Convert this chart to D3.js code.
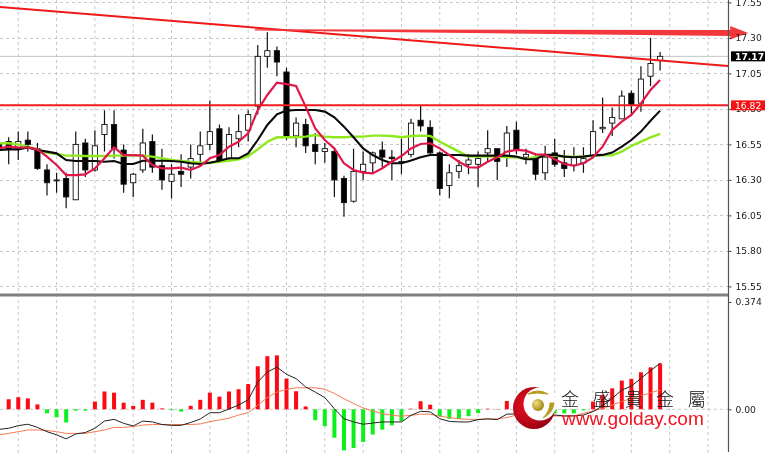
<!DOCTYPE html>
<html><head><meta charset="utf-8">
<style>html,body{margin:0;padding:0;background:#fff;overflow:hidden}svg{display:block;filter:blur(.3px)}</style>
<script src="https://cdnjs.cloudflare.com/ajax/libs/d3/7.8.5/d3.min.js"></script>
</head><body><svg id="c" width="765" height="455"></svg>
<script>
const opens=[16.56,16.57,16.52,16.58,16.52,16.37,16.30,16.31,16.16,16.56,16.37,16.62,16.69,16.51,16.28,16.37,16.57,16.40,16.29,16.36,16.39,16.48,16.55,16.66,16.45,16.59,16.65,16.82,17.17,17.21,17.06,16.61,16.69,16.55,16.50,16.50,16.31,16.15,16.36,16.42,16.51,16.46,16.43,16.48,16.72,16.67,16.49,16.26,16.36,16.41,16.41,16.49,16.52,16.46,16.65,16.46,16.45,16.35,16.49,16.42,16.40,16.42,16.47,16.66,16.70,16.73,16.91,16.84,17.03,17.14];
const highs=[16.59,16.60,16.64,16.64,16.56,16.41,16.35,16.35,16.64,16.59,16.65,16.79,16.79,16.55,16.35,16.66,16.62,16.52,16.41,16.48,16.55,16.64,16.86,16.69,16.67,16.76,16.79,17.25,17.34,17.24,17.09,16.74,16.73,16.63,16.56,16.53,16.33,16.52,16.50,16.50,16.57,16.51,16.59,16.73,16.82,16.72,16.50,16.41,16.44,16.48,16.50,16.65,16.52,16.68,16.71,16.52,16.49,16.54,16.59,16.51,16.53,16.53,16.72,16.88,16.81,16.93,16.93,17.10,17.30,17.20];
const lows=[16.46,16.41,16.44,16.50,16.37,16.19,16.21,16.10,16.16,16.32,16.36,16.50,16.45,16.21,16.18,16.35,16.35,16.23,16.17,16.25,16.31,16.40,16.51,16.43,16.44,16.53,16.57,16.76,17.09,17.03,16.58,16.53,16.49,16.41,16.42,16.18,16.04,16.14,16.30,16.35,16.39,16.30,16.34,16.46,16.64,16.48,16.19,16.17,16.31,16.34,16.25,16.42,16.30,16.39,16.48,16.41,16.30,16.30,16.39,16.32,16.36,16.35,16.47,16.63,16.61,16.73,16.76,16.78,16.96,17.07];
const closes=[16.52,16.52,16.57,16.55,16.38,16.28,16.30,16.18,16.55,16.37,16.54,16.69,16.52,16.27,16.34,16.56,16.39,16.30,16.34,16.34,16.45,16.54,16.64,16.43,16.62,16.64,16.76,17.17,17.21,17.13,16.60,16.70,16.54,16.50,16.52,16.30,16.14,16.36,16.41,16.49,16.46,16.45,16.43,16.70,16.68,16.49,16.24,16.35,16.40,16.44,16.45,16.52,16.43,16.63,16.51,16.48,16.34,16.46,16.41,16.38,16.46,16.45,16.64,16.67,16.74,16.89,16.83,17.01,17.12,17.17];
const maFast=[16.522,16.534,16.529,16.527,16.515,16.464,16.405,16.334,16.334,16.339,16.381,16.452,16.529,16.475,16.475,16.471,16.405,16.381,16.381,16.386,16.37,16.398,16.452,16.475,16.534,16.569,16.628,16.792,16.898,16.985,16.975,16.961,16.816,16.663,16.581,16.522,16.417,16.37,16.351,16.346,16.382,16.428,16.468,16.522,16.553,16.558,16.522,16.475,16.428,16.389,16.386,16.428,16.459,16.499,16.511,16.506,16.48,16.478,16.445,16.412,16.401,16.417,16.459,16.534,16.652,16.71,16.757,16.839,16.933,17.004];
const maMid=[16.511,16.515,16.515,16.529,16.511,16.499,16.487,16.44,16.433,16.433,16.433,16.428,16.433,16.412,16.412,16.435,16.435,16.435,16.433,16.428,16.417,16.412,16.421,16.435,16.452,16.452,16.487,16.581,16.687,16.762,16.788,16.792,16.792,16.792,16.781,16.741,16.675,16.6,16.522,16.475,16.44,16.417,16.417,16.436,16.459,16.475,16.475,16.475,16.475,16.471,16.471,16.471,16.471,16.471,16.464,16.445,16.445,16.476,16.476,16.464,16.459,16.464,16.473,16.476,16.492,16.534,16.581,16.64,16.717,16.788];
const maSlow=[16.558,16.558,16.55,16.534,16.515,16.492,16.482,16.471,16.471,16.468,16.468,16.468,16.471,16.471,16.471,16.471,16.464,16.452,16.44,16.433,16.426,16.421,16.421,16.428,16.435,16.445,16.468,16.515,16.569,16.6,16.6,16.6,16.605,16.616,16.605,16.6,16.6,16.605,16.605,16.612,16.612,16.609,16.6,16.609,16.612,16.609,16.569,16.534,16.499,16.464,16.464,16.464,16.464,16.459,16.459,16.445,16.464,16.476,16.469,16.464,16.464,16.464,16.471,16.473,16.473,16.499,16.539,16.57,16.6,16.624];
const macdHist=[0,.035,.042,.038,.017,-.014,-.028,-.046,-.005,-.005,.027,.062,.058,.023,.012,.033,.023,.003,-.003,-.008,.012,.033,.058,.044,.062,.07,.088,.15,.185,.188,.107,.063,.01,-.038,-.059,-.099,-.143,-.135,-.114,-.088,-.071,-.056,-.041,.002,.028,.016,-.024,-.033,-.033,-.024,-.013,.002,.001,.029,.012,-.005,-.012,-.012,-.014,-.014,-.014,-.004,.027,.05,.073,.1,.106,.129,.146,.16];
const macdLine=[-.07,-.066,-.057,-.052,-.063,-.078,-.089,-.103,-.086,-.081,-.066,-.041,-.035,-.049,-.058,-.041,-.044,-.053,-.056,-.056,-.046,-.034,-.012,-.012,.001,.015,.033,.095,.13,.147,.122,.107,.078,.06,.041,.002,-.033,-.044,-.052,-.048,-.044,-.044,-.044,-.021,-.007,-.009,-.033,-.042,-.044,-.044,-.036,-.033,-.036,-.017,-.016,-.014,-.02,-.023,-.02,-.023,-.023,-.02,-.008,.012,.038,.067,.081,.108,.135,.16];
const signalLine=[-.089,-.084,-.078,-.072,-.072,-.074,-.078,-.084,-.084,-.084,-.078,-.072,-.063,-.063,-.06,-.055,-.053,-.053,-.053,-.053,-.053,-.051,-.043,-.037,-.031,-.02,-.012,.014,.041,.06,.069,.075,.075,.075,.07,.055,.037,.02,.005,-.006,-.015,-.021,-.024,-.021,-.017,-.017,-.024,-.029,-.033,-.035,-.035,-.035,-.033,-.029,-.02,-.02,-.022,-.025,-.023,-.024,-.023,-.014,-.006,.003,.015,.027,.038,.046,.058,.067];
const priceTicks=[17.55,17.30,17.05,16.80,16.55,16.30,16.05,15.80,15.55];
const macdTickValues=[0.374,0];
const macdTickLabels=["0.374","0.00"];
const currentPrice=17.17, supportPrice=16.825;
const supportLabel="16.82";
const trendBars=[0,76.09], trendPrices=[17.518,17.102];
const arrowBars=[26.7,78.2], arrowPrices=[17.356,17.335];
const logoChars=["金","盛","貴","金","屬"];
const logoUrl="www.golday.com";

const svg=d3.select("#c");
const axisX=728.5;
const x=d3.scaleLinear().domain([0,69]).range([-0.9,660.1]);
const y=d3.scaleLinear().domain([15.55,17.55]).range([286.4,2.4]);
const m=d3.scaleLinear().domain([0,0.374]).range([409.3,302]);

// grid
const g=svg.append("g").attr("stroke","#c8c8c8").attr("stroke-dasharray","3,3").attr("fill","none");
g.selectAll(".v").data(d3.range(2,76,4)).join("line").attr("x1",d=>x(d)).attr("x2",d=>x(d)).attr("y1",0).attr("y2",455);
g.selectAll(".h").data(priceTicks).join("line").attr("x1",0).attr("x2",axisX).attr("y1",d=>Math.round(y(d))+.5).attr("y2",d=>Math.round(y(d))+.5);
g.append("line").attr("x1",0).attr("x2",axisX).attr("y1",m(0)).attr("y2",m(0));

// current price line
svg.append("line").attr("x1",0).attr("x2",axisX).attr("y1",y(currentPrice)).attr("y2",y(currentPrice)).attr("stroke","#c4c4c4");

// candles
const idx=d3.range(opens.length);
const c=svg.append("g");
c.selectAll("line").data(idx).join("line").attr("x1",i=>x(i)).attr("x2",i=>x(i)).attr("y1",i=>y(highs[i])).attr("y2",i=>y(lows[i])).attr("stroke","#111").attr("stroke-width",1.2);
c.selectAll("rect").data(idx).join("rect")
 .attr("x",i=>x(i)-2.6).attr("width",5.2)
 .attr("y",i=>y(Math.max(opens[i],closes[i])))
 .attr("height",i=>Math.max(1,Math.abs(y(opens[i])-y(closes[i]))))
 .attr("fill",i=>closes[i]>=opens[i]?"#fff":"#000").attr("stroke","#111").attr("stroke-width",.9);

// moving averages
const ln=(s,arr)=>d3.line().x((d,i)=>x(i)).y(d=>s(d))(arr);
svg.append("path").attr("d",ln(y,maSlow)).attr("fill","none").attr("stroke","#8ee81c").attr("stroke-width",2.4);
svg.append("path").attr("d",ln(y,maMid)).attr("fill","none").attr("stroke","#0a0a0a").attr("stroke-width",2.1);
svg.append("path").attr("d",ln(y,maFast)).attr("fill","none").attr("stroke","#e0184a").attr("stroke-width",2.2);

// trend + support lines
svg.append("line").attr("x1",x(trendBars[0])).attr("x2",x(trendBars[1])).attr("y1",y(trendPrices[0])).attr("y2",y(trendPrices[1])).attr("stroke","#f01818").attr("stroke-width",2);
svg.append("line").attr("x1",0).attr("x2",axisX).attr("y1",y(supportPrice)).attr("y2",y(supportPrice)).attr("stroke","#ee1c1c").attr("stroke-width",2);

// big arrow
const ax0=x(arrowBars[0]),ax1=x(arrowBars[1]),ay0=y(arrowPrices[0]),ay1=y(arrowPrices[1]);
svg.append("path").attr("d",`M${ax0},${ay0-.6}L${ax1-18},${ay1-3}L${ax1-18},${ay1-7}L${ax1},${ay1}L${ax1-18},${ay1+6.5}L${ax1-18},${ay1+3}L${ax0},${ay0+.6}Z`).attr("fill","#f2383c");

// separator
svg.append("rect").attr("x",0).attr("y",293.5).attr("width",axisX).attr("height",3).attr("fill","#808080");

// MACD
svg.append("g").selectAll("rect").data(idx.filter(i=>macdHist[i]!==0)).join("rect")
 .attr("x",i=>x(i)-2).attr("width",4)
 .attr("y",i=>Math.min(m(0),m(macdHist[i])))
 .attr("height",i=>Math.abs(m(macdHist[i])-m(0)))
 .attr("fill",i=>macdHist[i]>=0?"#fa0a14":"#0cf01c");
svg.append("path").attr("d",ln(m,signalLine)).attr("fill","none").attr("stroke","#f47a50").attr("stroke-width",1);
svg.append("path").attr("d",ln(m,macdLine)).attr("fill","none").attr("stroke","#222").attr("stroke-width",1);

// axis
const font='"DejaVu Sans",sans-serif';
const ay=svg.append("g").attr("transform",`translate(${axisX},0)`).call(d3.axisRight(y).tickValues(priceTicks).tickFormat(d3.format(".2f")).tickSize(3).tickPadding(4));
const am=svg.append("g").attr("transform",`translate(${axisX},0)`).call(d3.axisRight(m).tickValues(macdTickValues).tickFormat((d,i)=>macdTickLabels[i]).tickSize(3).tickPadding(4));
[ay,am].forEach(a=>{a.select(".domain").remove();a.selectAll("line").attr("stroke","#444");a.selectAll("text").attr("font-family",font).attr("font-size",9.2).attr("fill","#222");});
svg.append("line").attr("x1",axisX).attr("x2",axisX).attr("y1",0).attr("y2",452).attr("stroke","#555").attr("stroke-width",1.2);

// price labels
const tag=(p,bg,label,weight)=>{const yy=y(p);
 svg.append("rect").attr("x",731).attr("y",yy-5).attr("width",34).attr("height",10).attr("fill",bg);
 svg.append("text").attr("x",735).attr("y",yy+3.4).attr("font-family",font).attr("font-size",9.2).attr("font-weight",weight).attr("fill","#fff").text(label);};
tag(currentPrice,"#000",currentPrice.toFixed(2),"bold");
tag(supportPrice,"#f21414",supportLabel,"normal");

// logo
const defs=svg.append("defs");
const rg=defs.append("radialGradient").attr("id","cr").attr("cx","35%").attr("cy","45%").attr("r","70%");
rg.append("stop").attr("offset","0%").attr("stop-color","#f01020");
rg.append("stop").attr("offset","100%").attr("stop-color","#8a0010");
const bg=defs.append("radialGradient").attr("id","ball").attr("cx","35%").attr("cy","35%").attr("r","70%");
bg.append("stop").attr("offset","0%").attr("stop-color","#f0e080");
bg.append("stop").attr("offset","100%").attr("stop-color","#a08410");
const L=svg.append("g");
L.append("circle").attr("cx",534).attr("cy",408).attr("r",21).attr("fill","url(#cr)");
L.append("circle").attr("cx",540).attr("cy",404).attr("r",16.5).attr("fill","#fff");
L.append("circle").attr("cx",538).attr("cy",405).attr("r",6).attr("fill","url(#ball)");
L.append("path").attr("d","M528,394Q538,388 548,394Q538,392 528,394Z").attr("fill","#b89a20").attr("stroke","#b89a20").attr("stroke-width",1);
L.append("path").attr("d","M554,403Q553,413 543,418Q550,411 550,403Z").attr("fill","#b89a20").attr("stroke","#b89a20").attr("stroke-width",1);
L.selectAll("text").data(logoChars).join("text").attr("x",(d,i)=>570+i*31.7).attr("y",406).attr("text-anchor","middle")
 .attr("font-family",'"Noto Sans CJK TC"').attr("font-weight",300).attr("font-size",18).attr("fill","#111").text(d=>d);
svg.append("text").attr("x",562).attr("y",424.5).attr("font-family",'"Liberation Sans"').attr("font-size",19.1).attr("fill","#f01420").text(logoUrl);
</script></body></html>
